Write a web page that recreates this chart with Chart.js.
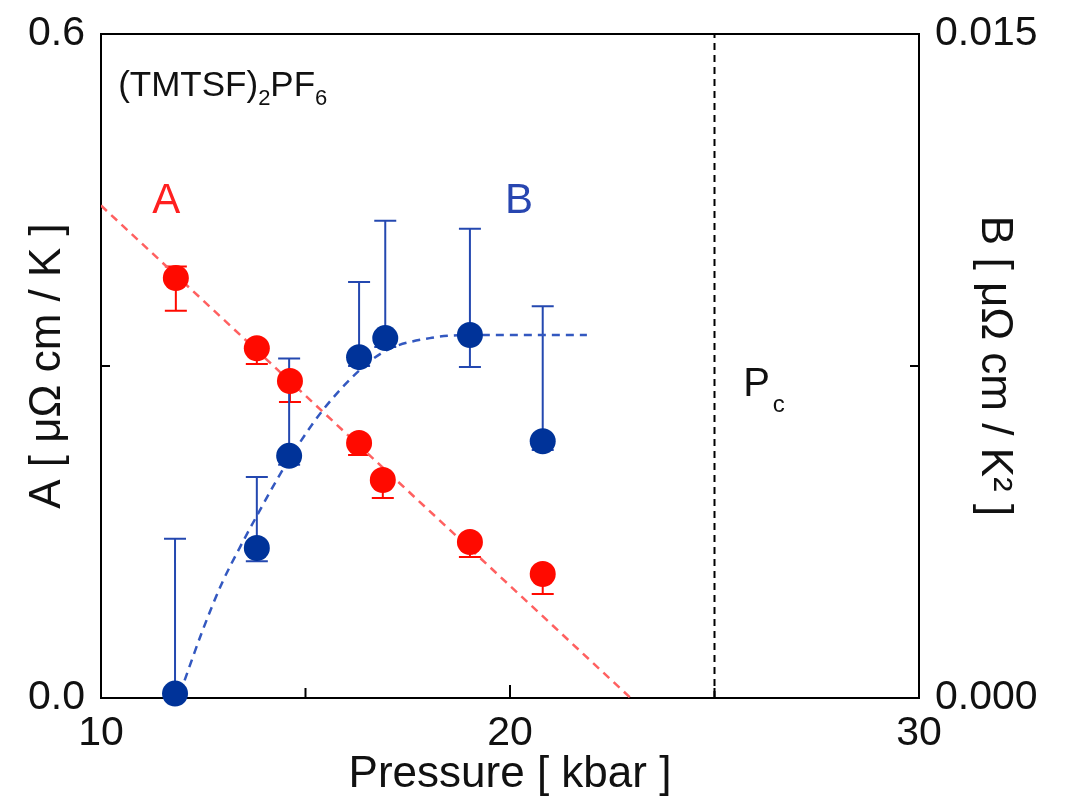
<!DOCTYPE html>
<html>
<head>
<meta charset="utf-8">
<script src="https://cdn.jsdelivr.net/npm/chart.js@4.4.1/dist/chart.umd.min.js"></script>
<style>
  html, body { margin: 0; padding: 0; background: #fff; }
</style>
</head>
<body>
<canvas id="chart" width="1067" height="805"></canvas>
<script>
// A coefficient (left axis, uOhm cm / K)
const pressureA = [11.83, 13.81, 14.62, 16.31, 16.89, 19.02, 20.80];
const valueA    = [0.3795, 0.316, 0.2865, 0.2304, 0.197, 0.141, 0.112];
const errUpA    = [0.0105, 0.004, 0.004, 0.004, 0.004, 0.004, 0.004];
const errDownA  = [0.0295, 0.0142, 0.019, 0.0108, 0.0163, 0.0136, 0.018];

// B coefficient (right axis, uOhm cm / K^2)
const pressureB = [11.81, 13.81, 14.60, 16.31, 16.95, 19.02, 20.80];
const valueB    = [0.0001, 0.00339, 0.00547, 0.0077, 0.00813, 0.0082, 0.0058];
const errUpB    = [0.0035, 0.0016, 0.0022, 0.0017, 0.00265, 0.0024, 0.00305];
const errDownB  = [0.0001, 0.0003, 0.0002, 0.0002, 0.0002, 0.00072, 0.0002];

// dashed guide lines
const fitPressureA = [10.0, 22.95];
const fitValueA    = [0.445, 0.0];
const fitPressureB = [11.93, 12.49, 12.96, 13.40, 13.89, 14.30, 14.79, 15.43, 16.33, 16.99, 18.04, 18.97, 21.88];
const fitValueB    = [0.0001, 0.00154, 0.0026, 0.00341, 0.00425, 0.00493, 0.00567, 0.00651, 0.00741, 0.00786, 0.00813, 0.0082, 0.0082];

// critical pressure
const pcPressure = 25;

const xTicks = [10, 20, 30];
const aTicks = [0.0, 0.6];
const bTicks = [0, 0.015];

const FONT = 'Liberation Sans, Arial, sans-serif';
const RED = '#ff0a00';
const BLUE = '#003399';

function toPoints(xs, ys) {
    return xs.map((x, i) => ({ x: x, y: ys[i] }));
}

// frame, inward ticks and error bars, drawn under the markers
const framePlugin = {
    id: 'frame',
    beforeDatasetsDraw(chart) {
        const ctx = chart.ctx;
        const area = chart.chartArea;
        const sx = chart.scales.x, sa = chart.scales.yA, sb = chart.scales.yB;
        ctx.save();
        ctx.strokeStyle = '#000';
        ctx.lineWidth = 2;
        ctx.strokeRect(area.left, area.top, area.right - area.left, area.bottom - area.top);

        ctx.beginPath();
        sx.ticks.forEach(t => {
            if (t.value <= sx.min || t.value >= sx.max) return;
            const px = sx.getPixelForValue(t.value);
            ctx.moveTo(px, area.bottom);
            ctx.lineTo(px, area.bottom - (t.value % 10 === 0 ? 13 : 10));
        });
        sa.ticks.forEach(t => {
            if (t.value <= sa.min || t.value >= sa.max) return;
            const py = sa.getPixelForValue(t.value);
            ctx.moveTo(area.left, py);
            ctx.lineTo(area.left + 9, py);
        });
        sb.ticks.forEach(t => {
            if (t.value <= sb.min || t.value >= sb.max) return;
            const py = sb.getPixelForValue(t.value);
            ctx.moveTo(area.right, py);
            ctx.lineTo(area.right - 9, py);
        });
        ctx.stroke();

        const drawBars = (xs, ys, up, down, scale, color) => {
            ctx.strokeStyle = color;
            ctx.lineWidth = 2;
            ctx.beginPath();
            xs.forEach((x, i) => {
                const px = sx.getPixelForValue(x);
                const top = scale.getPixelForValue(ys[i] + up[i]);
                const bot = scale.getPixelForValue(ys[i] - down[i]);
                ctx.moveTo(px, top); ctx.lineTo(px, bot);
                ctx.moveTo(px - 11, top); ctx.lineTo(px + 11, top);
                ctx.moveTo(px - 11, bot); ctx.lineTo(px + 11, bot);
            });
            ctx.stroke();
        };
        drawBars(pressureA, valueA, errUpA, errDownA, sa, RED);
        drawBars(pressureB, valueB, errUpB, errDownB, sb, '#2448b0');
        ctx.restore();
    }
};

// text labels inside the plot
const textPlugin = {
    id: 'texts',
    afterDatasetsDraw(chart) {
        const ctx = chart.ctx;
        const sx = chart.scales.x, sa = chart.scales.yA;
        ctx.save();
        ctx.textAlign = 'left';
        ctx.textBaseline = 'alphabetic';

        // (TMTSF)2PF6 with subscripts
        let px = sx.getPixelForValue(10.42);
        const py = sa.getPixelForValue(0.544);
        const parts = [['(TMTSF)', false], ['2', true], ['PF', false], ['6', true]];
        ctx.fillStyle = '#111';
        parts.forEach(([s, sub]) => {
            ctx.font = (sub ? '22px ' : '35px ') + FONT;
            ctx.fillText(s, px, py + (sub ? 9 : 0));
            px += ctx.measureText(s).width;
        });

        ctx.font = '42px ' + FONT;
        ctx.fillStyle = '#ff2020';
        ctx.fillText('A', sx.getPixelForValue(11.25), sa.getPixelForValue(0.438));
        ctx.fillStyle = '#2846b0';
        ctx.fillText('B', sx.getPixelForValue(19.88), sa.getPixelForValue(0.438));

        ctx.fillStyle = '#111';
        const pcx = sx.getPixelForValue(25.7), pcy = sa.getPixelForValue(0.273);
        ctx.font = '40px ' + FONT;
        ctx.fillText('P', pcx, pcy);
        const w = ctx.measureText('P').width;
        ctx.font = '24px ' + FONT;
        ctx.fillText('c', pcx + w + 3, pcy + 16);
        ctx.restore();
    }
};

// fixed box sizes so the plot frame lands where the reference has it
function fixWidth(w) {
    return s => { s.width = w; s.paddingTop = 0; s.paddingBottom = 0; };
}

const ctx = document.getElementById('chart').getContext('2d');
const myChart = new Chart(ctx, {
    type: 'scatter',
    data: {
        datasets: [
            {
                label: 'A',
                data: toPoints(pressureA, valueA),
                yAxisID: 'yA',
                backgroundColor: RED,
                borderWidth: 0,
                pointRadius: 13,
                clip: false,
                order: 0
            },
            {
                label: 'B',
                data: toPoints(pressureB, valueB),
                yAxisID: 'yB',
                backgroundColor: BLUE,
                borderWidth: 0,
                pointRadius: 13,
                clip: false,
                order: 0
            },
            {
                label: 'A fit',
                data: toPoints(fitPressureA, fitValueA),
                yAxisID: 'yA',
                showLine: true,
                borderColor: '#ff6060',
                borderWidth: 2.5,
                borderDash: [8, 6],
                pointRadius: 0,
                order: 2
            },
            {
                label: 'B fit',
                data: toPoints(fitPressureB, fitValueB),
                yAxisID: 'yB',
                showLine: true,
                cubicInterpolationMode: 'monotone',
                borderColor: '#3358c0',
                borderWidth: 2.5,
                borderDash: [8, 6],
                pointRadius: 0,
                order: 2
            },
            {
                label: 'Pc',
                data: [{ x: pcPressure, y: 0 }, { x: pcPressure, y: 0.6 }],
                yAxisID: 'yA',
                showLine: true,
                borderColor: '#000',
                borderWidth: 2,
                borderDash: [7, 5],
                pointRadius: 0,
                order: 3
            }
        ]
    },
    options: {
        responsive: false,
        animation: false,
        devicePixelRatio: 1,
        layout: { padding: { top: 34, left: 0, right: 0, bottom: 0 } },
        plugins: {
            legend: { display: false },
            tooltip: { enabled: false }
        },
        scales: {
            x: {
                type: 'linear',
                min: 10,
                max: 30,
                grid: { display: false, drawTicks: false },
                border: { display: false },
                ticks: {
                    stepSize: 5,
                    padding: 11,
                    color: '#111',
                    font: { family: FONT, size: 41 },
                    maxRotation: 0,
                    callback: v => xTicks.includes(v) ? String(v) : ''
                },
                title: {
                    display: true,
                    text: 'Pressure [ kbar ]',
                    color: '#111',
                    font: { family: FONT, size: 44 },
                    padding: { top: 0, bottom: 4 }
                },
                afterFit: s => { s.height = 107; s.paddingLeft = 0; s.paddingRight = 0; }
            },
            yA: {
                type: 'linear',
                position: 'left',
                min: 0,
                max: 0.6,
                grid: { display: false, drawTicks: false },
                border: { display: false },
                ticks: {
                    stepSize: 0.3,
                    padding: 16,
                    color: '#111',
                    font: { family: FONT, size: 41 },
                    callback: v => aTicks.some(t => Math.abs(t - v) < 1e-9) ? v.toFixed(1) : ''
                },
                title: {
                    display: true,
                    text: 'A [ μΩ cm / K ]',
                    color: '#111',
                    font: { family: FONT, size: 44 },
                    padding: { top: 21, bottom: 0 }
                },
                afterFit: fixWidth(101)
            },
            yB: {
                type: 'linear',
                position: 'right',
                min: 0,
                max: 0.015,
                grid: { display: false, drawTicks: false },
                border: { display: false },
                ticks: {
                    stepSize: 0.0075,
                    padding: 16,
                    color: '#111',
                    font: { family: FONT, size: 41 },
                    callback: v => bTicks.some(t => Math.abs(t - v) < 1e-9) ? v.toFixed(3) : ''
                },
                title: {
                    display: true,
                    text: 'B [ μΩ cm / K² ]',
                    color: '#111',
                    font: { family: FONT, size: 44 },
                    padding: { top: 46, bottom: 0 }
                },
                afterFit: fixWidth(148)
            }
        }
    },
    plugins: [framePlugin, textPlugin]
});
</script>
</body>
</html>
